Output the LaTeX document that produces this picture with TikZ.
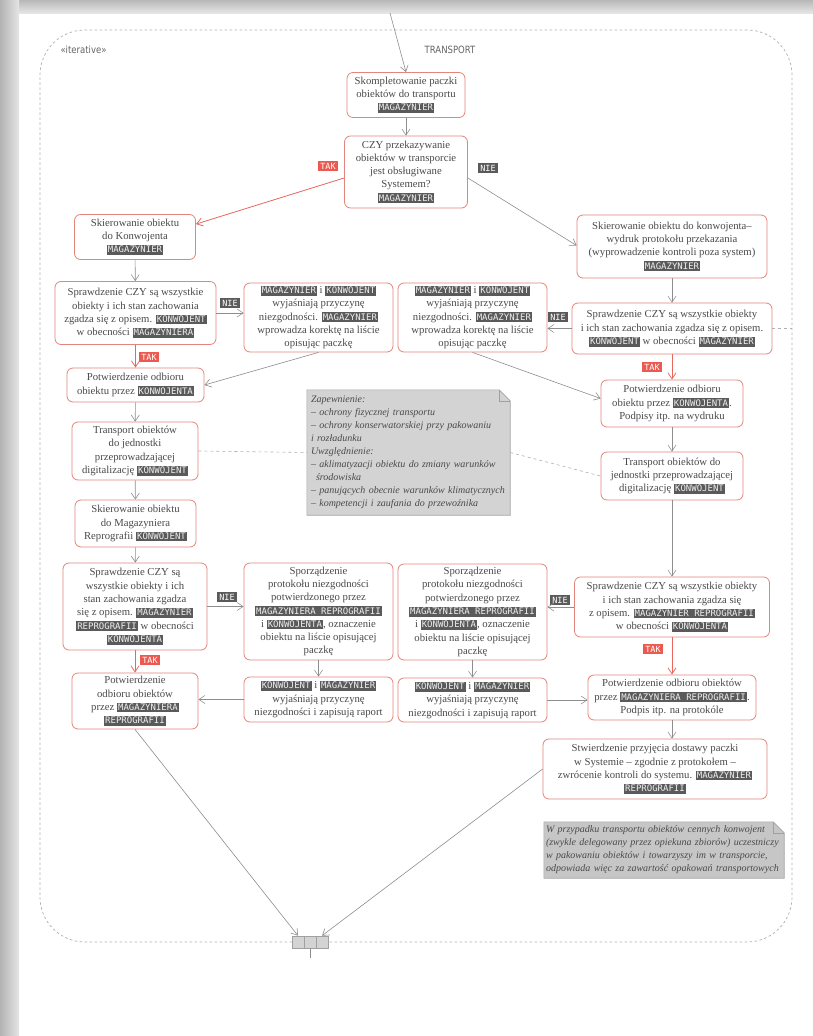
\documentclass[tikz,border=0pt]{standalone}
\usepackage{fontspec}
\setmainfont{Liberation Serif}
\newfontfamily\tagfont{DejaVu Sans Mono}
\newfontfamily\lblfont[FakeStretch=0.85]{DejaVu Sans}
\usetikzlibrary{arrows.meta,calc}
\definecolor{boxred}{HTML}{E2857C}
\definecolor{txt}{HTML}{4A4A4A}
\definecolor{arrgrey}{HTML}{8E8E8E}
\definecolor{arrred}{HTML}{E8675D}
\definecolor{takbg}{HTML}{EB5A50}
\definecolor{tagbg}{HTML}{5A5A5A}
\definecolor{tagfg}{HTML}{EFEFEF}
\definecolor{notegrey}{HTML}{D3D3D3}
\definecolor{notegreyb}{HTML}{C6C6C6}
\definecolor{noteline}{HTML}{A0A0A0}
\definecolor{framegrey}{HTML}{B0B0B0}
\newcommand\tg[1]{{\setlength{\fboxsep}{1.1pt}\colorbox{tagbg}{\tagfont\fontsize{9}{10}\selectfont\color{tagfg}\rule[-1pt]{0pt}{7.6pt}#1}}}
\tikzset{
  box/.style={draw=boxred, line width=0.8pt, rounded corners=6pt, fill=white, align=center,
    font=\fontsize{10.7}{13.3}\selectfont, text=txt, inner sep=2pt},
  garrow/.style={draw=arrgrey, line width=0.6pt, -{Straight Barb[length=6pt,width=8pt]}},
  rarrow/.style={draw=arrred, line width=0.8pt, -{Straight Barb[length=6pt,width=8pt]}},
  dconn/.style={draw=framegrey, line width=0.6pt, dash pattern=on 3pt off 3pt},
  framebox/.style={draw=framegrey, line width=0.7pt, dash pattern=on 2.5pt off 2.5pt, rounded corners=45pt},
  takl/.style={fill=takbg, text=white, font=\tagfont\fontsize{8.5}{9}\selectfont, inner xsep=2pt, inner ysep=2pt},
  niel/.style={fill=tagbg, text=white, font=\tagfont\fontsize{8.5}{9}\selectfont, inner xsep=2pt, inner ysep=2pt},
  notebox/.style={fill=#1, align=left, font=\itshape\fontsize{10}{13}\selectfont, text=txt, inner xsep=4pt, inner ysep=3pt},
  noteout/.style={draw=noteline, line width=0.6pt},
  pin/.style={draw=noteline, fill=notegrey, minimum size=12pt, inner sep=0pt, line width=0.6pt},
  lbl/.style={font=\lblfont\fontsize{10}{12}\selectfont, text=txt!85}
}
\begin{document}
\begin{tikzpicture}[x=1pt,y=-1pt]
\useasboundingbox (0,0) rectangle (813,1036);
% page
\fill[white] (0,0) rectangle (813,1036);
\shade[top color=black!28, bottom color=black!10] (0,0) rectangle (813,13);
\shade[left color=black!30, right color=black!10] (0,0) rectangle (19,1036);
% frame
\node[framebox, minimum width=752, minimum height=912, inner sep=0pt] (frame) at (416,486) {};
\node[lbl, anchor=west] (it) at (57,50) {«iterative»};
\node[lbl] (tr) at (450,50) {TRANSPORT};
\coordinate (in0) at (390,13);
% left column
\node[box, minimum width=118, minimum height=45] (A) at (406,95) {Skompletowanie paczki\\obiektów do transportu\\\tg{MAGAZYNIER}};
\node[box, minimum width=123, minimum height=72] (B) at (406,172) {CZY przekazywanie\\obiektów w transporcie\\jest obsługiwane\\Systemem?\\\tg{MAGAZYNIER}};
\node[box, minimum width=121, minimum height=45] (C) at (135,237) {Skierowanie obiektu\\do Konwojenta\\\tg{MAGAZYNIER}};
\node[box, minimum width=161, minimum height=63] (D) at (135.5,313) {Sprawdzenie CZY są wszystkie\\obiekty i ich stan zachowania\\zgadza się z opisem. \tg{KONWOJENT}\\w obecności \tg{MAGAZYNIERA}};
\node[box, minimum width=149, minimum height=69] (E) at (318.5,317.5) {\tg{MAGAZYNIER} i \tg{KONWOJENT}\\wyjaśniają przyczynę\\niezgodności. \tg{MAGAZYNIER}\\wprowadza korektę na liście\\opisując paczkę};
\node[box, minimum width=137, minimum height=34] (F) at (135.5,385) {Potwierdzenie odbioru\\obiektu przez \tg{KONWOJENTA}};
\node[box, minimum width=126, minimum height=58] (G) at (135,451) {Transport obiektów\\do jednostki\\przeprowadzającej\\digitalizację \tg{KONWOJENT}};
\node[box, minimum width=121, minimum height=47] (H) at (135.5,523.5) {Skierowanie obiektu\\do Magazyniera\\Reprografii \tg{KONWOJENT}};
\node[box, minimum width=144, minimum height=87] (I) at (135,606.5) {Sprawdzenie CZY są\\wszystkie obiekty i ich\\stan zachowania zgadza\\się z opisem. \tg{MAGAZYNIER}\\\tg{REPROGRAFII} w obecności\\\tg{KONWOJENTA}};
\node[box, minimum width=149, minimum height=97] (J) at (318.5,611.5) {Sporządzenie\\protokołu niezgodności\\potwierdzonego przez\\\tg{MAGAZYNIERA REPROGRAFII}\\i \tg{KONWOJENTA}, oznaczenie\\obiektu na liście opisującej\\paczkę};
\node[box, minimum width=149, minimum height=45] (K) at (318.5,699.5) {\tg{KONWOJENT} i \tg{MAGAZYNIER}\\wyjaśniają przyczynę\\niezgodności i zapisują raport};
\node[box, minimum width=126, minimum height=56] (L) at (135,701) {Potwierdzenie\\odbioru obiektów\\przez \tg{MAGAZYNIERA}\\\tg{REPROGRAFII}};
% right column
\node[box, minimum width=190, minimum height=63] (R1) at (672,246.5) {Skierowanie obiektu do konwojenta–\\wydruk protokołu przekazania\\(wyprowadzenie kontroli poza system)\\\tg{MAGAZYNIER}};
\node[box, minimum width=200, minimum height=51] (R2) at (672,328.5) {Sprawdzenie CZY są wszystkie obiekty\\i ich stan zachowania zgadza się z opisem.\\\tg{KONWOJENT} w obecności \tg{MAGAZYNIER}};
\node[box, minimum width=149, minimum height=69] (R3) at (472.5,317.5) {\tg{MAGAZYNIER} i \tg{KONWOJENT}\\wyjaśniają przyczynę\\niezgodności. \tg{MAGAZYNIER}\\wprowadza korektę na liście\\opisując paczkę};
\node[box, minimum width=142, minimum height=47] (R4) at (672,403.5) {Potwierdzenie odbioru\\obiektu przez \tg{KONWOJENTA}.\\Podpisy itp. na wydruku};
\node[box, minimum width=142, minimum height=48] (R5) at (672,476) {Transport obiektów do\\jednostki przeprowadzającej\\digitalizację \tg{KONWOJENT}};
\node[box, minimum width=195, minimum height=60] (R6) at (672,607) {Sprawdzenie CZY są wszystkie obiekty\\i ich stan zachowania zgadza się\\z opisem. \tg{MAGAZYNIER REPROGRAFII}\\w obecności \tg{KONWOJENTA}};
\node[box, minimum width=149, minimum height=96] (R7) at (472.5,612) {Sporządzenie\\protokołu niezgodności\\potwierdzonego przez\\\tg{MAGAZYNIERA REPROGRAFII}\\i \tg{KONWOJENTA}, oznaczenie\\obiektu na liście opisującej\\paczkę};
\node[box, minimum width=149, minimum height=44] (R8) at (472.5,700) {\tg{KONWOJENT} i \tg{MAGAZYNIER}\\wyjaśniają przyczynę\\niezgodności i zapisują raport};
\node[box, minimum width=168, minimum height=45] (R9) at (672,697.5) {Potwierdzenie odbioru obiektów\\przez \tg{MAGAZYNIERA REPROGRAFII}.\\Podpis itp. na protokóle};
\node[box, minimum width=224, minimum height=60] (R10) at (655,769) {Stwierdzenie przyjęcia dostawy paczki\\w Systemie – zgodnie z protokołem –\\zwrócenie kontroli do systemu. \tg{MAGAZYNIER}\\\tg{REPROGRAFII}};
% notes
\node[notebox=notegrey, minimum width=203, minimum height=125, text width=195] (N1) at (408.5,452.5) {Zapewnienie:\\– ochrony fizycznej transportu\\– ochrony konserwatorskiej przy pakowaniu\\i rozładunku\\Uwzględnienie:\\– aklimatyzacji obiektu do zmiany warunków\\\hspace*{5pt}środowiska\\– panujących obecnie warunków klimatycznych\\– kompetencji i zaufania do przewoźnika};
\fill[white] ([xshift=-11pt]N1.north east) -- ([xshift=1pt,yshift=1pt]N1.north east) -- ([yshift=-11pt]N1.north east) -- cycle;
\draw[noteout] (N1.north west) -- ([xshift=-11pt]N1.north east) -- ([yshift=-11pt]N1.north east) -- (N1.south east) -- (N1.south west) -- cycle;
\draw[noteout] ([xshift=-11pt]N1.north east) -- ([xshift=-11pt,yshift=-11pt]N1.north east) -- ([yshift=-11pt]N1.north east);
\node[notebox=notegreyb, minimum width=238, minimum height=56, text width=236, inner xsep=2pt] (N2) at (664,850) {W przypadku transportu obiektów cennych konwojent\\(zwykle delegowany przez opiekuna zbiorów) uczestniczy\\w pakowaniu obiektów i towarzyszy im w transporcie,\\odpowiada więc za zawartość opakowań transportowych};
\fill[white] ([xshift=-11pt]N2.north east) -- ([xshift=1pt,yshift=1pt]N2.north east) -- ([yshift=-11pt]N2.north east) -- cycle;
\draw[noteout] (N2.north west) -- ([xshift=-11pt]N2.north east) -- ([yshift=-11pt]N2.north east) -- (N2.south east) -- (N2.south west) -- cycle;
\draw[noteout] ([xshift=-11pt]N2.north east) -- ([xshift=-11pt,yshift=-11pt]N2.north east) -- ([yshift=-11pt]N2.north east);
% pins
\node[pin] (p1) at (298,942) {};
\node[pin] (p2) at (310,942) {};
\node[pin] (p3) at (322,942) {};
\coordinate (ptick) at (310,958);
\draw[draw=arrgrey, line width=0.6pt] (p2.south) -- (ptick);
% labels
\node[takl] (tak1) at (328,166) {TAK};
\node[niel] (nie1) at (488,168) {NIE};
\node[niel] (nie2) at (230,303) {NIE};
\node[takl] (tak2) at (149,357) {TAK};
\node[niel] (nie3) at (558,317) {NIE};
\node[takl] (tak3) at (652,367) {TAK};
\node[niel] (nie4) at (227,597) {NIE};
\node[takl] (tak4) at (150,660) {TAK};
\node[niel] (nie5) at (560,600) {NIE};
\node[takl] (tak5) at (653,649) {TAK};
% connectors
\draw[garrow] (in0) -- (A.north);
\draw[garrow] (A) -- (A |- B.north);
\draw[rarrow] ([yshift=-6pt]B.west) -- ([yshift=-10pt]C.north east);
\draw[garrow] ([yshift=-6pt]B.east) -- ([yshift=1pt]R1.west);
\draw[garrow] (C) -- (D);
\draw[garrow] (D.east) -- (D.east -| E.west);
\draw[rarrow] (D) -- (F);
\draw[garrow] (E.south) -- (F.east);
\draw[garrow] (F) -- (G);
\draw[garrow] (G) -- (H);
\draw[garrow] (H) -- (I);
\draw[garrow] (I.east) -- (I.east -| J.west);
\draw[garrow] (J) -- (K);
\draw[garrow] (K.west) -- (K.west -| L.east);
\draw[rarrow] (I) -- (L);
\draw[garrow] (L.south) -- (p1.north);
\draw[garrow] (R1) -- (R2);
\draw[garrow] (R2.west) -- (R2.west -| R3.east);
\draw[rarrow] (R2) -- (R4);
\draw[garrow] (R3.south) -- ([yshift=5pt]R4.west);
\draw[garrow] (R4) -- (R5);
\draw[garrow] (R5) -- (R6);
\draw[garrow] (R6.west) -- (R6.west -| R7.east);
\draw[garrow] (R7) -- (R8);
\draw[garrow] (R8.east) -- (R8.east -| R9.west);
\draw[rarrow] (R6) -- (R9);
\draw[garrow] (R9) -- (R9 |- R10.north);
\draw[garrow] (R10.west) -- (p3.north);
\draw[dconn] (G.east) -- (N1.west);
\draw[dconn] (N1.east) -- (R5.west);
\draw[dconn] (R2.east) -- (R2.east -| frame.east);
\end{tikzpicture}
\end{document}
